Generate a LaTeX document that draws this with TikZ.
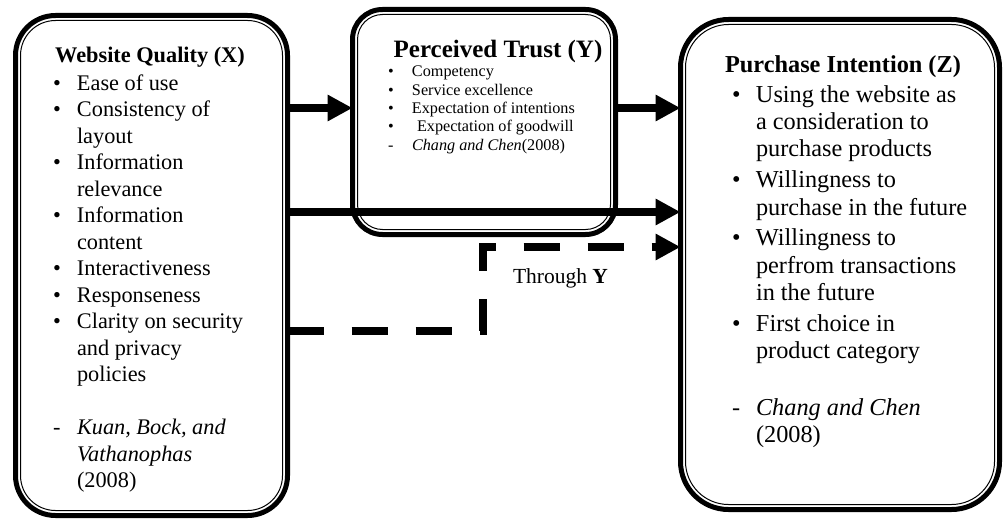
\documentclass[tikz,border=0pt]{standalone}
\usepackage{fontspec}
\setmainfont{Liberation Serif}
\usetikzlibrary{arrows.meta}
\begin{document}
\begin{tikzpicture}[x=1pt,y=-1pt,
  boxo/.style={draw, rectangle, line width=5pt, inner sep=0pt, outer sep=0pt},
  boxi/.style={draw, line width=1pt},
  arr/.style={line width=8pt, -{Triangle[length=25pt,width=25pt]}},
  darr/.style={arr, dash pattern=on 36pt off 28pt, line join=miter},
  txt/.style={inner sep=0pt, outer sep=0pt, anchor=base west},
  ttl/.style={inner sep=0pt, outer sep=0pt, anchor=base}]
\useasboundingbox (0,0) rectangle (1003,519);

% boxes
\node[boxo, minimum width=272pt, minimum height=500pt, rounded corners=40pt] (L) at (151.5,265.5) {};
\draw[boxi, rounded corners=35pt] ([shift={(5,5)}]L.north west) rectangle ([shift={(-5,-5)}]L.south east);

\node[boxo, minimum width=263pt, minimum height=225pt, rounded corners=30pt] (C) at (484,122) {};
\draw[boxi, rounded corners=25pt] ([shift={(5,5)}]C.north west) rectangle ([shift={(-5,-5)}]C.south east);

\node[boxo, minimum width=319pt, minimum height=490pt, rounded corners=48pt] (R) at (840,264.5) {};
\draw[boxi, rounded corners=43pt] ([shift={(5,5)}]R.north west) rectangle ([shift={(-5,-5)}]R.south east);

% left text
\node[ttl, font=\fontsize{22.3}{26.5}\selectfont\bfseries] (Lt) at (150,63) {Website Quality (X)};
\node[txt, font=\fontsize{22.3}{26.5}\selectfont] (Li) at (53,90) {\begin{tabular}[t]{@{}p{24pt}@{}l@{}}
\textbullet & Ease of use\\
\textbullet & Consistency of\\
 & layout\\
\textbullet & Information\\
 & relevance\\
\textbullet & Information\\
 & content\\
\textbullet & Interactiveness\\
\textbullet & Responseness\\
\textbullet & Clarity on security\\
 & and privacy\\
 & policies\\
 & \\
- & \textit{Kuan, Bock, and}\\
 & \textit{Vathanophas}\\
 & (2008)
\end{tabular}};

% centre text
\node[ttl, font=\fontsize{25}{28}\selectfont\bfseries] (Ct) at (498,58) {Perceived Trust (Y)};
\node[txt, font=\fontsize{16.2}{18.3}\selectfont] (Ci) at (388,77) {\begin{tabular}[t]{@{}p{24pt}@{}l@{}}
\textbullet & Competency\\
\textbullet & Service excellence\\
\textbullet & Expectation of intentions\\
\textbullet & \hspace{5pt}Expectation of goodwill\\
- & \textit{Chang and Chen}(2008)
\end{tabular}};

% right text
\node[ttl, font=\fontsize{24.3}{27.5}\selectfont\bfseries] (Rt) at (843,72) {Purchase Intention (Z)};
\node[txt, font=\fontsize{24.3}{27.5}\selectfont] (Ri) at (732,102) {\begin{tabular}[t]{@{}p{24pt}@{}l@{}}
\textbullet & Using the website as\\
 & a consideration to\\
 & purchase products\\[3pt]
\textbullet & Willingness to\\
 & purchase in the future\\[3pt]
\textbullet & Willingness to\\
 & perfrom transactions\\
 & in the future\\[3pt]
\textbullet & First choice in\\
 & product category\\[1.5pt]
 & \\
- & \textit{Chang and Chen}\\
 & (2008)
\end{tabular}};

\node[txt, font=\fontsize{21.5}{25}\selectfont] (thr) at (513,283) {Through \textbf{Y}};

% connectors
\coordinate (ya) at (0,108);
\coordinate (yb) at (0,212);
\coordinate (d1) at (483,331);
\coordinate (d2) at (483,247);
\draw[arr] (L.east |- ya) -- (C.west |- ya);
\draw[arr] (C.east |- ya) -- (R.west |- ya);
\draw[arr] (L.east |- yb) -- (R.west |- yb);
\draw[darr] (L.east |- d1) -- (d1) -- (d2) -- (R.west |- d2);
\end{tikzpicture}
\end{document}
